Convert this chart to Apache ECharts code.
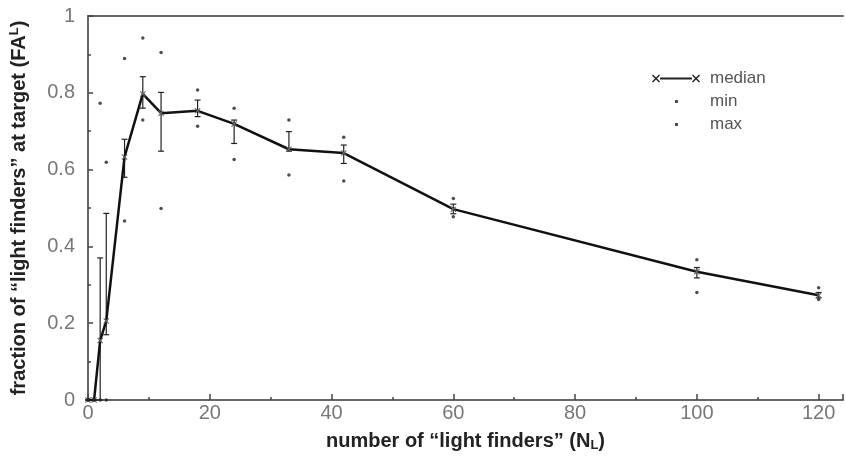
<!DOCTYPE html>
<html>
<head>
<meta charset="utf-8">
<script src="https://cdn.jsdelivr.net/npm/echarts@6/dist/echarts.min.js"></script>
<style>
html,body{margin:0;padding:0;background:#fff;}
#chart{width:846px;height:460px;}
</style>
</head>
<body>
<div id="chart"></div>
<script>
// Data
var nValues = [0, 1, 2, 3, 6, 9, 12, 18, 24, 33, 42, 60, 100, 120];
var medianVals = [0, 0, 0.155, 0.206, 0.633, 0.797, 0.747, 0.753, 0.719, 0.653, 0.643, 0.497, 0.334, 0.273];
var lowerVals = [0, 0, 0, 0.17, 0.58, 0.76, 0.648, 0.738, 0.668, 0.648, 0.616, 0.485, 0.318, 0.266];
var upperVals = [0, 0, 0.37, 0.486, 0.679, 0.842, 0.801, 0.781, 0.729, 0.699, 0.664, 0.51, 0.345, 0.28];
var minVals = [0, 0, 0, 0, 0.466, 0.729, 0.499, 0.713, 0.626, 0.586, 0.570, 0.477, 0.280, 0.262];
var maxVals = [0, 0, 0.773, 0.619, 0.889, 0.943, 0.905, 0.807, 0.760, 0.729, 0.684, 0.525, 0.365, 0.292];
var seriesNames = ['median', 'min', 'max'];
var xTitle = 'number of “light finders” (N{sub|L})';
var yTitle = 'fraction of “light finders” at target (FA{sup|L})';

function zip(xs, ys) { return xs.map(function (x, i) { return [x, ys[i]]; }); }
var errData = nValues.map(function (x, i) { return [x, lowerVals[i], upperVals[i]]; });

var crossPath = 'path://M0,1 L1,0 L4,3 L7,0 L8,1 L5,4 L8,7 L7,8 L4,5 L1,8 L0,7 L3,4 Z';
var legendMedianIcon = 'path://M0,1 L1,0 L4,3 L7,0 L8,1 L5,4 L8,7 L7,8 L4,5 L1,8 L0,7 L3,4 Z ' +
  'M40,1 L41,0 L44,3 L47,0 L48,1 L45,4 L48,7 L47,8 L44,5 L41,8 L40,7 L43,4 Z ' +
  'M8,3 L40,3 L40,5 L8,5 Z';
var legendDotIcon = 'path://M0,0 L0.001,0 L0,0.001 Z M48,8 L47.999,8 L48,7.999 Z M23,2.5 L26,2.5 L26,5.5 L23,5.5 Z';

var font = '"Liberation Sans", Arial, sans-serif';
var chart = echarts.init(document.getElementById('chart'), null, {renderer: 'canvas'});
chart.setOption({
  animation: false,
  backgroundColor: '#fff',
  grid: {left: 84, right: 0, top: 16, bottom: 60, show: false},
  legend: {
    orient: 'vertical', left: 647, top: 65, itemWidth: 48, itemHeight: 8, itemGap: 6,
    textStyle: {fontFamily: font, fontSize: 17, color: '#555', padding: [0, 0, 0, 5]},
    data: [
      {name: seriesNames[0], icon: legendMedianIcon, itemStyle: {color: '#222'}},
      {name: seriesNames[1], icon: legendDotIcon, itemStyle: {color: '#222'}},
      {name: seriesNames[2], icon: legendDotIcon, itemStyle: {color: '#222'}}
    ]
  },
  xAxis: [{
    type: 'value', min: 0, max: 124, interval: 20,
    name: xTitle, nameLocation: 'middle', nameGap: 30,
    nameTextStyle: {fontFamily: font, fontSize: 20, fontWeight: 'bold', color: '#222',
      rich: {sub: {fontFamily: font, fontSize: 13, fontWeight: 'bold', color: '#222', verticalAlign: 'bottom', padding: [9, 0, 0, 0]}}},
    axisLine: {onZero: false, lineStyle: {color: '#666', width: 2}},
    axisTick: {inside: true, length: 6, lineStyle: {color: '#444', width: 1.5}},
    minorTick: {show: true, splitNumber: 2, length: 3, lineStyle: {color: '#444', width: 1.5}},
    axisLabel: {fontFamily: font, fontSize: 20, color: '#777', margin: 3,
      formatter: function (v) { return v > 120 ? '' : String(v); }},
    splitLine: {show: false}
  }, {
    type: 'value', position: 'top', min: 0, max: 124,
    axisLine: {show: true, onZero: false, lineStyle: {color: '#666', width: 2}},
    axisTick: {show: false}, axisLabel: {show: false}, splitLine: {show: false}
  }],
  yAxis: {
    type: 'value', min: 0, max: 1, interval: 0.2,
    name: yTitle, nameLocation: 'middle', nameGap: 58, nameRotate: 90,
    nameTextStyle: {fontFamily: font, fontSize: 20, fontWeight: 'bold', color: '#222',
      rich: {sup: {fontFamily: font, fontSize: 13, fontWeight: 'bold', color: '#222', verticalAlign: 'top', padding: [0, 0, 9, 0]}}},
    axisLine: {show: true, lineStyle: {color: '#666', width: 2}},
    axisTick: {inside: true, length: 5, lineStyle: {color: '#444', width: 1.5}},
    minorTick: {show: true, splitNumber: 2, length: 3, lineStyle: {color: '#444', width: 1.5}},
    axisLabel: {fontFamily: font, fontSize: 20, color: '#777', margin: 13,
      formatter: function (v) { return v === 0 || v === 1 ? String(v) : v.toFixed(1); }},
    splitLine: {show: false}
  },
  series: [
    {
      name: seriesNames[0], type: 'line', data: zip(nValues, medianVals),
      lineStyle: {color: '#111', width: 2.5},
      symbol: crossPath, symbolSize: 6, showAllSymbol: true,
      itemStyle: {color: '#666'}, z: 3
    },
    {
      name: 'errorbars', type: 'custom', data: errData, z: 2,
      renderItem: function (params, api) {
        var x = api.value(0);
        var lo = api.coord([x, api.value(1)]);
        var hi = api.coord([x, api.value(2)]);
        var w = 3;
        var st = {stroke: '#222', lineWidth: 1.2};
        return {type: 'group', children: [
          {type: 'line', shape: {x1: lo[0], y1: lo[1], x2: hi[0], y2: hi[1]}, style: st},
          {type: 'line', shape: {x1: lo[0] - w, y1: lo[1], x2: lo[0] + w, y2: lo[1]}, style: st},
          {type: 'line', shape: {x1: hi[0] - w, y1: hi[1], x2: hi[0] + w, y2: hi[1]}, style: st}
        ]};
      }
    },
    {
      name: seriesNames[1], type: 'scatter', data: zip(nValues, minVals),
      symbol: 'circle', symbolSize: 3.5, itemStyle: {color: '#222'}, z: 4
    },
    {
      name: seriesNames[2], type: 'scatter', data: zip(nValues, maxVals),
      symbol: 'circle', symbolSize: 3.5, itemStyle: {color: '#222'}, z: 4
    }
  ]
});
</script>
</body>
</html>
